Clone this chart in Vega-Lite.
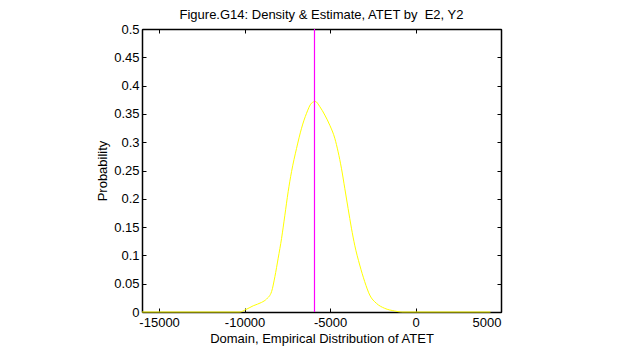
{
  "$schema": "https://vega.github.io/schema/vega-lite/v6.json",
  "autosize": {"type": "none"},
  "width": 359,
  "height": 283,
  "padding": {"left": 142, "top": 29, "right": 118, "bottom": 44},
  "background": "white",
  "config": {
    "font": "Liberation Sans",
    "view": {"stroke": "black", "strokeWidth": 1},
    "axis": {
      "grid": false,
      "domainColor": "black",
      "domainWidth": 1.5,
      "tickColor": "black",
      "tickSize": -4,
      "labelFont": "Liberation Sans",
      "labelFontSize": 13,
      "labelColor": "black",
      "titleFont": "Liberation Sans",
      "titleFontSize": 13,
      "titleFontWeight": "normal",
      "titleColor": "black"
    }
  },
  "title": {
    "text": "Figure.G14: Density & Estimate, ATET by\u00a0 E2, Y2",
    "font": "Liberation Sans",
    "fontSize": 13,
    "fontWeight": "normal",
    "color": "black",
    "anchor": "middle",
    "offset": 1
  },
  "resolve": {"scale": {"x": "independent", "y": "independent"}},
  "layer": [
    {
      "data": {
        "values": [
          {"x": -16000, "y": 0},
          {"x": -10270, "y": 0},
          {"x": -9978, "y": 0.0035},
          {"x": -9494, "y": 0.011},
          {"x": -9003, "y": 0.017},
          {"x": -8712, "y": 0.023},
          {"x": -8420, "y": 0.036},
          {"x": -8227, "y": 0.0624},
          {"x": -8034, "y": 0.095},
          {"x": -7836, "y": 0.13},
          {"x": -7643, "y": 0.171},
          {"x": -7450, "y": 0.2126},
          {"x": -7252, "y": 0.248},
          {"x": -6960, "y": 0.289},
          {"x": -6668, "y": 0.3246},
          {"x": -6376, "y": 0.351},
          {"x": -6084, "y": 0.369},
          {"x": -5860, "y": 0.372},
          {"x": -5599, "y": 0.3628},
          {"x": -5307, "y": 0.348},
          {"x": -5015, "y": 0.33},
          {"x": -4723, "y": 0.307},
          {"x": -4528, "y": 0.283},
          {"x": -4334, "y": 0.254},
          {"x": -4139, "y": 0.2186},
          {"x": -3945, "y": 0.183},
          {"x": -3748, "y": 0.148},
          {"x": -3556, "y": 0.118},
          {"x": -3264, "y": 0.083},
          {"x": -2972, "y": 0.0536},
          {"x": -2680, "y": 0.03},
          {"x": -2290, "y": 0.0154},
          {"x": -1804, "y": 0.0065},
          {"x": -1220, "y": 0.0018},
          {"x": -830, "y": 0},
          {"x": 4385, "y": 0}
        ]
      },
      "mark": {"type": "line", "color": "#ffff00", "strokeWidth": 1, "interpolate": "monotone"},
      "encoding": {
        "x": {
          "field": "x", "type": "quantitative",
          "scale": {"domain": [-16000, 5000], "nice": false, "zero": false},
          "axis": {
            "orient": "bottom",
            "values": [-15000, -10000, -5000, 0, 5000],
            "labelExpr": "'' + datum.value",
            "labelPadding": 8,
            "title": "Domain, Empirical Distribution of ATET",
            "titlePadding": 3
          }
        },
        "y": {
          "field": "y", "type": "quantitative",
          "scale": {"domain": [0, 0.5], "nice": false},
          "axis": {
            "orient": "left",
            "values": [0, 0.05, 0.1, 0.15, 0.2, 0.25, 0.3, 0.35, 0.4, 0.45, 0.5],
            "format": "~g",
            "labelPadding": 7,
            "title": "Probability",
            "titlePadding": 4
          }
        }
      }
    },
    {
      "data": {"values": [{"est": -5910, "lo": 0, "hi": 0.5}]},
      "mark": {"type": "rule", "color": "#ff00ff", "strokeWidth": 1.2},
      "encoding": {
        "x": {
          "field": "est", "type": "quantitative",
          "scale": {"domain": [-16000, 5000], "nice": false, "zero": false},
          "axis": {"orient": "top", "values": [-15000, -10000, -5000, 0, 5000], "labels": false, "title": null}
        },
        "y": {
          "field": "lo", "type": "quantitative",
          "scale": {"domain": [0, 0.5], "nice": false},
          "axis": {"orient": "right", "values": [0, 0.05, 0.1, 0.15, 0.2, 0.25, 0.3, 0.35, 0.4, 0.45, 0.5], "labels": false, "title": null}
        },
        "y2": {"field": "hi"}
      }
    }
  ]
}
